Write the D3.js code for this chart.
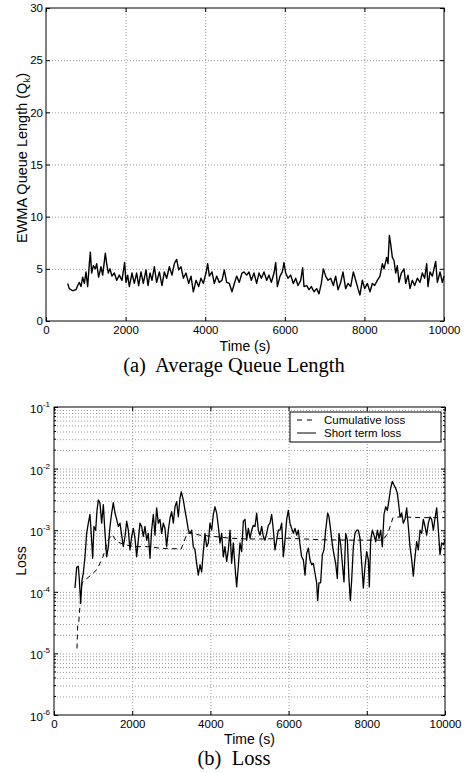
<!DOCTYPE html>
<html>
<head>
<meta charset="utf-8">
<script src="https://cdn.jsdelivr.net/npm/d3@7"></script>
<style>
    body { margin: 0; background: #fff; }
    svg text { font-family: "Liberation Sans", Arial, Helvetica, sans-serif; fill: #000; }
    .grid line { stroke: #9a9a9a; stroke-width: 1; stroke-dasharray: 1,2; }
    .grid .domain { display: none; }
    .axis .domain { display: none; }
    .axis line { stroke: #000; }
    .caption { font-family: "Liberation Serif", "Times New Roman", serif !important; white-space: pre; }
</style>
</head>
<body>
<div id="chart"></div>
<script>
// ---- data ----
let xTicks = [0, 2000, 4000, 6000, 8000, 10000];
let queueTicks = [0, 5, 10, 15, 20, 25, 30];
let lossTicks = [1e-6, 1e-5, 1e-4, 1e-3, 1e-2, 1e-1];
let lossTickExp = ["-6", "-5", "-4", "-3", "-2", "-1"];
let legendLabels = ["Cumulative loss", "Short term loss"];

// EWMA queue length [time (s), Q_k]
let queueSeries = [
    [545,3.6],[586,3.1],[670,2.9],[754,3.0],[796,3.4],[838,3.7],[880,3.3],[921,4.2],[963,3.6],[1005,4.7],
    [1047,3.3],[1089,5.5],[1114,6.6],[1147,4.6],[1190,5.3],[1240,5.0],[1273,5.5],[1323,4.2],[1382,5.2],[1424,4.4],
    [1491,6.5],[1524,5.5],[1566,4.6],[1608,5.0],[1658,4.3],[1717,4.6],[1775,3.9],[1842,4.4],[1909,3.9],[1976,5.6],
    [2010,3.7],[2052,4.4],[2094,3.3],[2161,4.6],[2219,3.6],[2278,4.6],[2328,3.4],[2387,4.7],[2445,3.6],[2513,4.9],
    [2563,3.4],[2613,4.6],[2663,3.9],[2722,5.2],[2780,3.7],[2848,4.7],[2914,3.4],[2973,4.7],[3032,4.1],[3099,5.2],
    [3166,4.4],[3224,5.5],[3283,5.9],[3333,4.9],[3392,5.2],[3451,4.1],[3517,4.6],[3585,3.6],[3643,4.3],[3702,2.8],
    [3769,3.9],[3836,3.3],[3894,4.1],[3953,3.6],[4020,4.6],[4062,5.5],[4104,4.3],[4171,4.7],[4229,3.6],[4288,4.3],
    [4355,3.7],[4422,3.9],[4480,4.9],[4539,3.7],[4606,3.6],[4673,2.8],[4732,3.6],[4790,4.3],[4857,3.7],[4924,4.6],
    [4975,4.7],[5042,4.4],[5101,4.7],[5159,3.9],[5226,4.6],[5293,3.6],[5352,4.6],[5411,4.1],[5478,4.7],[5545,3.9],
    [5603,4.4],[5662,3.7],[5729,4.6],[5771,5.6],[5813,3.3],[5880,4.3],[5938,4.7],[5980,5.6],[6022,4.6],[6080,4.1],
    [6148,4.4],[6215,3.6],[6273,4.1],[6332,3.4],[6399,3.9],[6449,5.1],[6483,3.3],[6550,3.4],[6608,3.0],[6667,3.3],
    [6734,2.8],[6801,3.1],[6859,2.6],[6918,3.6],[6968,5.0],[7027,4.3],[7086,3.9],[7153,4.1],[7220,3.4],[7278,4.3],
    [7337,3.0],[7404,3.7],[7462,4.7],[7529,3.1],[7588,3.6],[7655,3.3],[7722,4.7],[7781,3.9],[7839,3.1],[7889,2.5],
    [7948,3.9],[8007,3.1],[8074,3.6],[8141,2.8],[8199,3.6],[8258,3.4],[8325,3.9],[8392,4.3],[8451,5.5],[8493,5.0],
    [8560,6.1],[8593,5.5],[8627,8.2],[8660,7.4],[8702,6.1],[8744,5.8],[8786,4.6],[8828,5.3],[8869,3.7],[8928,4.6],
    [8995,5.0],[9037,3.6],[9096,4.4],[9146,3.1],[9204,3.9],[9263,3.4],[9330,4.1],[9397,3.7],[9456,4.6],[9514,4.1],
    [9565,5.5],[9598,3.3],[9648,4.7],[9707,4.3],[9791,5.7],[9833,3.7],[9900,4.7],[9958,3.7],[10000,4.3]
];

// short term loss [time (s), loss]
let shortLoss = [
    [537,1.15e-4],[580,2.5e-4],[622,2.6e-4],[648,1.55e-4],[682,6.5e-5],[716,1.55e-4],[750,2.0e-4],[793,3.7e-4],
    [835,8.9e-4],[878,1.3e-3],[920,1.8e-3],[963,6.9e-4],[989,3.5e-4],[1023,1.15e-3],[1066,1.0e-3],[1100,2.1e-3],
    [1134,3.1e-3],[1176,2.75e-3],[1219,1.3e-3],[1262,2.6e-3],[1304,8.9e-4],[1347,3.7e-4],[1390,5.4e-4],[1432,1.15e-3],
    [1475,1.9e-3],[1517,2.8e-3],[1560,1.9e-3],[1603,1.5e-3],[1645,1.15e-3],[1688,1.3e-3],[1730,8.3e-4],[1773,5.4e-4],
    [1816,7.9e-4],[1858,1.4e-3],[1901,1.0e-3],[1943,4.8e-4],[1986,7.9e-4],[2029,1.07e-3],[2071,7.4e-4],[2114,3.7e-4],
    [2156,6.9e-4],[2199,1.3e-3],[2242,1.15e-3],[2284,7.9e-4],[2327,1.15e-3],[2370,6.9e-4],[2412,8.9e-4],[2455,3.5e-4],
    [2497,1.0e-3],[2540,1.8e-3],[2583,8.3e-4],[2625,2.3e-3],[2668,1.3e-3],[2710,1.5e-3],[2753,8.9e-4],[2796,1.3e-3],
    [2838,1.07e-3],[2881,5.4e-4],[2924,1.0e-3],[2966,1.55e-3],[3009,2.0e-3],[3052,1.3e-3],[3094,2.4e-3],[3137,2.9e-3],
    [3179,1.65e-3],[3222,3.3e-3],[3256,4.2e-3],[3307,3.1e-3],[3350,2.1e-3],[3392,1.5e-3],[3435,1.0e-3],[3478,8.9e-4],
    [3520,1.0e-3],[3563,5.4e-4],[3606,4.8e-4],[3648,2.9e-4],[3691,1.86e-4],[3734,2.75e-4],[3776,2.1e-4],[3819,4.5e-4],
    [3861,8.9e-4],[3904,5.4e-4],[3947,6.2e-4],[3989,1.3e-3],[4032,1.0e-3],[4075,1.8e-3],[4117,2.4e-3],[4160,1.9e-3],
    [4203,1.15e-3],[4245,6.2e-4],[4288,8.9e-4],[4330,3.7e-4],[4373,5.4e-4],[4416,3.1e-4],[4458,4.8e-4],[4501,1.0e-3],
    [4543,2.9e-4],[4586,6.2e-4],[4629,2.6e-4],[4671,1.2e-4],[4714,2.6e-4],[4757,6.2e-4],[4799,4.5e-4],[4842,1.4e-3],
    [4885,1.5e-3],[4927,6.9e-4],[4970,1.07e-3],[5013,7.4e-4],[5056,1.0e-3],[5098,1.2e-3],[5141,1.15e-3],[5183,1.9e-3],
    [5226,1.0e-3],[5269,8.3e-4],[5311,1.15e-3],[5354,7.9e-4],[5396,6.9e-4],[5439,8.9e-4],[5482,1.2e-3],[5524,1.3e-3],
    [5567,1.8e-3],[5610,1.0e-3],[5652,4.8e-4],[5695,6.9e-4],[5738,1.0e-3],[5780,1.0e-3],[5823,1.3e-3],[5865,3.7e-4],
    [5908,6.9e-4],[5951,1.5e-3],[5993,2.1e-3],[6036,1.3e-3],[6079,1.07e-3],[6121,8.9e-4],[6164,1.07e-3],[6206,8.3e-4],
    [6249,1.0e-3],[6292,5.8e-4],[6334,3.7e-4],[6377,3.3e-4],[6420,1.86e-4],[6462,4.2e-4],[6505,5.1e-4],[6547,3.3e-4],
    [6590,2.75e-4],[6633,2.9e-4],[6675,2.0e-4],[6718,1.4e-4],[6743,7.2e-5],[6777,1.4e-4],[6820,1.4e-4],[6863,4.0e-4],
    [6905,4.8e-4],[6948,1.0e-3],[6999,1.9e-3],[7033,1.65e-3],[7076,1.0e-3],[7119,5.8e-4],[7161,4.0e-4],[7204,2.9e-4],
    [7246,1.65e-4],[7289,8.9e-4],[7332,5.8e-4],[7374,2.9e-4],[7417,1.45e-4],[7460,8.9e-4],[7502,6.9e-4],[7545,1.55e-4],
    [7579,7.2e-5],[7613,1.55e-4],[7656,5.4e-4],[7698,8.9e-4],[7741,1.0e-3],[7784,1.0e-3],[7826,7.4e-4],[7869,2.9e-4],
    [7912,1.15e-4],[7954,2.6e-4],[7997,4.5e-4],[8040,3.3e-4],[8065,1.2e-4],[8099,6.9e-4],[8142,1.0e-3],[8184,8.3e-4],
    [8227,6.5e-4],[8270,1.0e-3],[8312,7.4e-4],[8355,1.0e-3],[8397,5.4e-4],[8440,1.8e-3],[8483,2.4e-3],[8525,2.1e-3],
    [8568,3.1e-3],[8610,4.8e-3],[8653,6.2e-3],[8696,5.4e-3],[8738,4.8e-3],[8781,4.0e-3],[8823,2.4e-3],[8849,1.65e-3],
    [8892,1.9e-3],[8934,1.3e-3],[8977,1.5e-3],[9020,2.3e-3],[9062,1.15e-3],[9105,5.4e-4],[9148,3.3e-4],[9190,1.8e-4],
    [9233,3.7e-4],[9275,6.5e-4],[9318,4.8e-4],[9361,1.0e-3],[9403,8.9e-4],[9446,1.5e-3],[9489,1.15e-3],[9531,8.3e-4],
    [9574,1.3e-3],[9617,1.65e-3],[9659,1.5e-3],[9702,1.0e-3],[9744,1.55e-3],[9787,2.3e-3],[9830,1.0e-3],[9872,4.0e-4],
    [9915,6.2e-4],[9958,5.8e-4],[10000,6.9e-4]
];

// cumulative loss [time (s), loss]
let cumLoss = [
    [588,1.2e-5],[605,2.8e-5],[630,3.0e-5],[665,6e-5],[716,1.4e-4],[844,1.65e-4],[997,2.0e-4],[1100,2.3e-4],
    [1253,3.7e-4],[1381,6.9e-4],[1483,8.5e-4],[1611,6.5e-4],[1816,5.8e-4],[2072,5.4e-4],[2455,5.4e-4],[2711,5.1e-4],
    [2967,5.0e-4],[3146,5.0e-4],[3248,4.9e-4],[3325,6.5e-4],[3402,9.0e-4],[3529,8.9e-4],[3734,8.3e-4],[4118,7.9e-4],
    [4501,7.4e-4],[4962,7.2e-4],[5269,7.2e-4],[6036,7.4e-4],[6803,7.0e-4],[7570,6.9e-4],[8133,6.9e-4],[8414,6.9e-4],
    [8542,9.0e-4],[8670,1.6e-3],[8849,1.65e-3],[9361,1.6e-3],[10000,1.6e-3]
];

// ---- drawing ----
let svg = d3.select("#chart").append("svg")
    .attr("width", 467)
    .attr("height", 773);

// box + four inward tick axes, MATLAB style
function drawFrame(x, y, yTicks, yFormat, showYLabels) {
    let x0 = x.range()[0], x1 = x.range()[1];
    let y0 = y.range()[0], y1 = y.range()[1];

    svg.append("g").attr("class", "axis")
        .attr("transform", "translate(0," + y0 + ")")
        .call(d3.axisBottom(x).tickValues(xTicks).tickSizeInner(-4).tickSizeOuter(0).tickPadding(5).tickFormat(d3.format("d")))
        .call(g => g.selectAll("text").style("font-size", "11.5px"));
    svg.append("g").attr("class", "axis")
        .attr("transform", "translate(0," + y1 + ")")
        .call(d3.axisTop(x).tickValues(xTicks).tickSizeInner(-4).tickSizeOuter(0).tickFormat(""));

    let left = d3.axisLeft(y).tickValues(yTicks).tickSizeInner(-4).tickSizeOuter(0).tickPadding(3);
    left.tickFormat(showYLabels ? yFormat : "");
    svg.append("g").attr("class", "axis")
        .attr("transform", "translate(" + x0 + ",0)")
        .call(left)
        .call(g => g.selectAll("text").style("font-size", "11.5px"));
    svg.append("g").attr("class", "axis")
        .attr("transform", "translate(" + x1 + ",0)")
        .call(d3.axisRight(y).tickValues(yTicks).tickSizeInner(-4).tickSizeOuter(0).tickFormat(""));

    svg.append("rect")
        .attr("x", x0).attr("y", y1)
        .attr("width", x1 - x0).attr("height", y0 - y1)
        .attr("fill", "none").attr("stroke", "#000").attr("stroke-width", 1);
}

function drawGrid(x, y, yGrid) {
    let x0 = x.range()[0], x1 = x.range()[1];
    let y0 = y.range()[0], y1 = y.range()[1];
    svg.append("g").attr("class", "grid")
        .attr("transform", "translate(0," + y0 + ")")
        .call(d3.axisBottom(x).tickValues(xTicks.slice(1, -1)).tickSize(-(y0 - y1)).tickFormat(""));
    svg.append("g").attr("class", "grid")
        .attr("transform", "translate(" + x0 + ",0)")
        .call(d3.axisLeft(y).tickValues(yGrid).tickSize(-(x1 - x0)).tickFormat(""));
}

// ===== (a) Average Queue Length =====
let xA = d3.scaleLinear().domain([0, 10000]).range([46, 444]);
let yA = d3.scaleLinear().domain([0, 30]).range([321, 8]);

drawGrid(xA, yA, queueTicks.slice(1, -1));

svg.append("path")
    .datum(queueSeries)
    .attr("fill", "none")
    .attr("stroke", "#000")
    .attr("stroke-width", 1.4)
    .attr("stroke-linejoin", "round")
    .attr("d", d3.line().x(d => xA(d[0])).y(d => yA(d[1])));

drawFrame(xA, yA, queueTicks, d3.format("d"), true);

let ylabA = svg.append("text")
    .attr("transform", "translate(27,158) rotate(-90)")
    .attr("text-anchor", "middle")
    .style("font-size", "14.5px");
ylabA.append("tspan").text("EWMA Queue Length (Q");
ylabA.append("tspan").attr("dy", 3).style("font-size", "9.5px").text("k");
ylabA.append("tspan").attr("dy", -3).text(")");

svg.append("text")
    .attr("x", 245).attr("y", 351)
    .attr("text-anchor", "middle")
    .style("font-size", "14px")
    .text("Time (s)");

svg.append("text")
    .attr("class", "caption")
    .attr("x", 234).attr("y", 372)
    .attr("text-anchor", "middle")
    .style("font-size", "20.5px")
    .text("(a)  Average Queue Length");

// ===== (b) Loss =====
let xB = d3.scaleLinear().domain([0, 10000]).range([54, 445]);
let yB = d3.scaleLog().domain([1e-6, 1e-1]).range([715, 407]);

// minor log positions 2..9 per decade
let minorTicks = [];
lossTicks.slice(0, -1).forEach(function (p) {
    for (let m = 2; m <= 9; m++) minorTicks.push(m * p);
});

drawGrid(xB, yB, lossTicks.slice(1, -1).concat(minorTicks));

let lineB = d3.line().x(d => xB(d[0])).y(d => yB(d[1]));

svg.append("path")
    .datum(cumLoss)
    .attr("fill", "none")
    .attr("stroke", "#000")
    .attr("stroke-width", 1)
    .attr("stroke-dasharray", "5,4")
    .attr("d", lineB);

svg.append("path")
    .datum(shortLoss)
    .attr("fill", "none")
    .attr("stroke", "#000")
    .attr("stroke-width", 1.3)
    .attr("stroke-linejoin", "round")
    .attr("d", lineB);

drawFrame(xB, yB, lossTicks, "", false);

// minor ticks on the log axis
[[54, 2], [445, -2]].forEach(function (s) {
    svg.append("g").selectAll("line")
        .data(minorTicks)
        .join("line")
        .attr("x1", s[0]).attr("x2", s[0] + s[1])
        .attr("y1", d => yB(d)).attr("y2", d => yB(d))
        .attr("stroke", "#000");
});

// 10^n labels
svg.append("g").selectAll("text")
    .data(lossTicks)
    .join("text")
    .attr("x", 50)
    .attr("y", d => yB(d) + 6)
    .attr("text-anchor", "end")
    .style("font-size", "11.5px")
    .each(function (d, i) {
        let t = d3.select(this);
        t.append("tspan").text("10");
        t.append("tspan").attr("dy", -6).style("font-size", "8px").text(lossTickExp[i]);
    });

svg.append("text")
    .attr("transform", "translate(26," + ((407 + 715) / 2) + ") rotate(-90)")
    .attr("text-anchor", "middle")
    .style("font-size", "14px")
    .text("Loss");

svg.append("text")
    .attr("x", 249.5).attr("y", 744)
    .attr("text-anchor", "middle")
    .style("font-size", "14px")
    .text("Time (s)");

svg.append("text")
    .attr("class", "caption")
    .attr("x", 234).attr("y", 765)
    .attr("text-anchor", "middle")
    .style("font-size", "20.5px")
    .text("(b)  Loss");

// legend
let legend = svg.append("g");
legend.append("rect")
    .attr("x", 290).attr("y", 412)
    .attr("width", 151).attr("height", 30)
    .attr("fill", "#fff").attr("stroke", "#000").attr("stroke-width", 1);
legendLabels.forEach(function (label, i) {
    let ly = 420 + i * 13;
    legend.append("line")
        .attr("x1", 297).attr("x2", 316)
        .attr("y1", ly).attr("y2", ly)
        .attr("stroke", "#000")
        .attr("stroke-dasharray", i === 0 ? "5,5" : null);
    legend.append("text")
        .attr("x", 324).attr("y", ly + 4)
        .style("font-size", "11.5px")
        .text(label);
});
</script>
</body>
</html>
